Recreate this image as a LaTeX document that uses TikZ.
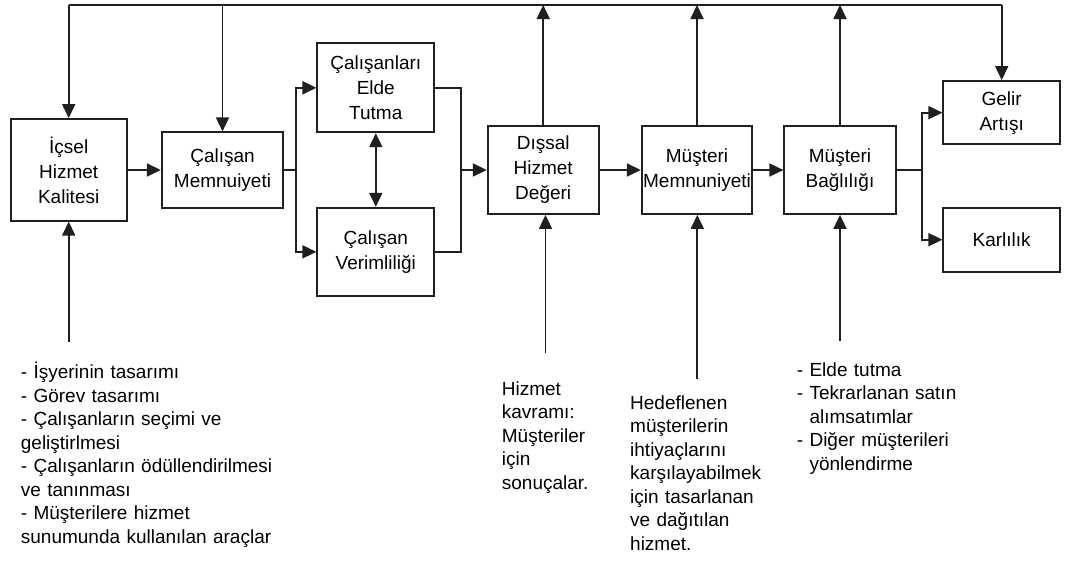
\documentclass[tikz,border=0pt]{standalone}
\usepackage{fontspec}
\setmainfont{Liberation Sans}
\usetikzlibrary{arrows.meta}

\tikzset{
  flow/.style={line width=1.8pt, draw=black!88},
  arr/.style={flow, -{Triangle[length=14pt,width=13pt]}},
  darr/.style={flow, {Triangle[length=14pt,width=13pt]}-{Triangle[length=14pt,width=13pt]}},
  block/.style={draw=black!88, line width=1.8pt, fill=white, inner sep=0pt,
    align=center, font=\fontsize{19}{25}\selectfont},
  note/.style={inner sep=0pt, anchor=base west, align=left,
    font=\fontsize{19}{23.5}\selectfont}
}

\begin{document}
\begin{tikzpicture}[x=1pt, y=-1pt]
  \useasboundingbox (0,0) rectangle (1069,562);
  \fill[white] (0,0) rectangle (1069,562);

  % main chain boxes
  \node[block, minimum width=116pt, minimum height=101.7pt] (icsel) at (68.7,169.85) {İçsel\\Hizmet\\Kalitesi};
  \node[block, minimum width=121.6pt, minimum height=75.4pt] (calisan) at (222.5,170) {Çalışan\\Memnuiyeti};
  \node[block, minimum width=117pt, minimum height=89pt] (elde) at (375.8,87.8) {Çalışanları\\Elde\\Tutma};
  \node[block, minimum width=117pt, minimum height=88.3pt] (verim) at (375.8,251.85) {Çalışan\\Verimliliği};
  \node[block, minimum width=111pt, minimum height=88.3pt] (dissal) at (543.2,169.85) {Dışsal\\Hizmet\\Değeri};
  \node[block, minimum width=110.6pt, minimum height=88.3pt] (mmem) at (697,169.85) {Müşteri\\Memnuniyeti};
  \node[block, minimum width=111.4pt, minimum height=88.3pt] (bagli) at (840,169.85) {Müşteri\\Bağlılığı};
  \node[block, minimum width=116.7pt, minimum height=63.3pt] (gelir) at (1001.7,112.65) {Gelir\\Artışı};
  \node[block, minimum width=116.7pt, minimum height=64pt] (karli) at (1001.7,239.7) {Karlılık};

  % junction points
  \coordinate (topL) at (68.7,5);
  \coordinate (topR) at (1001.7,5);
  \coordinate (split) at (296,170);
  \coordinate (merge) at (461,170);
  \coordinate (branch) at (921.7,170);

  % feedback line along the top
  \draw[flow] (topL) -- (topR);
  \draw[arr] (topL) -- (icsel.north);
  \draw[arr] (calisan.north |- topL) -- (calisan.north);
  \draw[arr] (topR) -- (gelir.north);
  \draw[arr] (dissal.north) -- (dissal.north |- topL);
  \draw[arr] (mmem.north) -- (mmem.north |- topL);
  \draw[arr] (bagli.north) -- (bagli.north |- topL);

  % forward chain
  \draw[arr] (icsel.east |- split) -- (calisan.west |- split);
  \draw[flow] (calisan.east |- split) -- (split);
  \draw[arr] (split) |- (elde.west);
  \draw[arr] (split) |- (verim.west);
  \draw[darr] (elde.south) -- (verim.north);
  \draw[flow] (elde.east) -| (merge);
  \draw[flow] (verim.east) -| (merge);
  \draw[arr] (merge) -- (dissal.west |- merge);
  \draw[arr] (dissal.east |- merge) -- (mmem.west |- merge);
  \draw[arr] (mmem.east |- merge) -- (bagli.west |- merge);
  \draw[flow] (bagli.east |- branch) -- (branch);
  \draw[arr] (branch) |- (gelir.west);
  \draw[arr] (branch) |- (karli.west);

  % inputs from below
  \coordinate (in1) at (68.7,342);
  \coordinate (in2) at (545.5,353);
  \coordinate (in3) at (697.3,379);
  \coordinate (in4) at (840,341);
  \draw[arr] (in1) -- (in1 |- icsel.south);
  \draw[arr] (in2) -- (in2 |- dissal.south);
  \draw[arr] (in3) -- (in3 |- mmem.south);
  \draw[arr] (in4) -- (in4 |- bagli.south);

  % descriptions under the inputs
  \node[note, text width=265pt] (t1) at (20.7,378.5) {- İşyerinin tasarımı\\- Görev tasarımı\\- Çalışanların seçimi ve\\geliştirlmesi\\- Çalışanların ödüllendirilmesi\\ve tanınması\\- Müşterilere hizmet\\sunumunda kullanılan araçlar};
  \node[note, text width=100pt] (t2) at (501.7,395) {Hizmet\\kavramı:\\Müşteriler\\için\\sonuçalar.};
  \node[note, text width=135pt] (t3) at (630,409) {Hedeflenen\\müşterilerin\\ihtiyaçlarını\\karşılayabilmek\\için tasarlanan\\ve dağıtılan\\hizmet.};
  \node[note, text width=175pt] (t4) at (796.7,376) {- Elde tutma\\- Tekrarlanan satın\\\hphantom{-\ }alımsatımlar\\- Diğer müşterileri\\\hphantom{-\ }yönlendirme};
\end{tikzpicture}
\end{document}
